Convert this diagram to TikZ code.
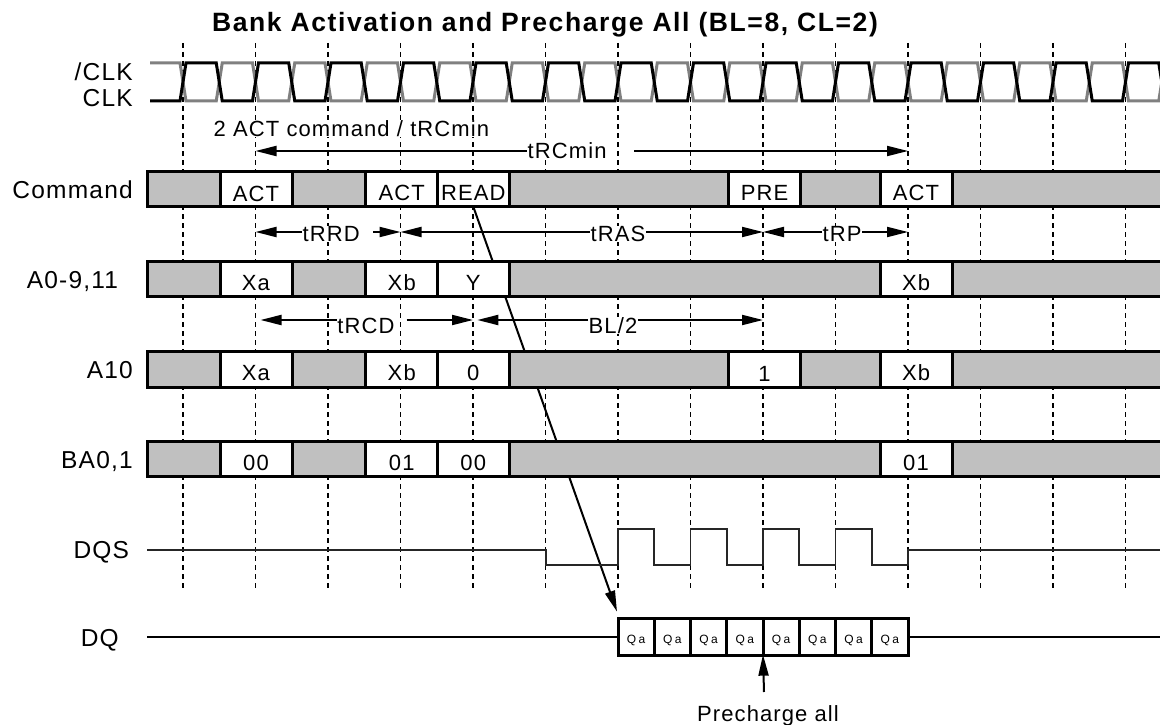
\documentclass[tikz,border=0pt]{standalone}
\usepackage{fontspec}
\setmainfont{Liberation Sans}
\newfontfamily\lblfont{Liberation Sans}[LetterSpace=5]
\newfontfamily\ttlfont{Liberation Sans}[LetterSpace=6]
\newfontfamily\qfont{Liberation Sans}[LetterSpace=20]
\usetikzlibrary{arrows.meta}
\definecolor{busgray}{RGB}{192,192,192}
\definecolor{clkgray}{RGB}{128,128,128}
\pgfdeclarelayer{bg}
\pgfsetlayers{bg,main}
\newcommand\busrow[1]{%
  \fill[busgray] (147,#1) rectangle (1175,#1+35.5);
  \draw[bus] (1175,#1) -- (147,#1) -- (147,#1+35.5) -- (1175,#1+35.5);
}
\begin{document}
\begin{tikzpicture}[x=1pt,y=-1pt,
  grid/.style={line width=1.6pt, dash pattern=on 5pt off 4pt},
  bus/.style={line width=3pt},
  cell/.style={draw, line width=3pt, fill=white, inner sep=0pt, outer sep=0pt,
    minimum width=72pt, minimum height=35.5pt, text height=22.5pt, text depth=0pt,
    font=\lblfont\fontsize{22}{26}\selectfont},
  qcell/.style={draw, line width=3pt, fill=white, inner sep=0pt, outer sep=0pt,
    minimum width=36.25pt, minimum height=36.7pt, text height=13.3pt, text depth=0pt,
    font=\qfont\fontsize{12}{14}\selectfont},
  sig/.style={font=\lblfont\fontsize{24.5}{29}\selectfont, anchor=base east, inner sep=0pt},
  lab/.style={font=\lblfont\fontsize{22}{26}\selectfont, inner sep=0.5pt, fill=white},
  tm/.style={line width=2pt},
  tip/.style={-{Triangle[length=21pt,width=10pt]}},
  clkb/.style={line width=3pt, black},
  clkg/.style={line width=3pt, clkgray},
  dqs/.style={line width=1.8pt, black!85},
]
\useasboundingbox (0,0) rectangle (1160,725);

% title
\node[font=\ttlfont\bfseries\fontsize{26.5}{31}\selectfont, anchor=base, inner sep=0pt] (title) at (545,32) {Bank Activation and Precharge All (BL=8, CL=2)};

% signal labels
\node[sig] (lnclk) at (133,81) {/CLK};
\node[sig] (lclk) at (133,106.7) {CLK};
\node[sig] (lcmd) at (133,198.3) {Command};
\node[sig] (la0) at (118.3,288) {A0-9,11};
\node[sig] (la10) at (133,378.5) {A10};
\node[sig] (lba) at (133,468) {BA0,1};
\node[sig] (ldqs) at (129.3,558.5) {DQS};
\node[sig] (ldq) at (119,646) {DQ};

% clocks
\draw[clkg] (150,63) foreach \k in {0,...,13} { -- ({180+72.5*\k},63) -- ({186+72.5*\k},101) -- ({216.25+72.5*\k},101) -- ({222.25+72.5*\k},63) } -- (1175,63);
\draw[clkb] (150,101) foreach \k in {0,...,13} { -- ({180+72.5*\k},101) -- ({186+72.5*\k},63) -- ({216.25+72.5*\k},63) -- ({222.25+72.5*\k},101) } -- (1175,101);

% bus rows
\busrow{171}
\busrow{261}
\busrow{351.5}
\busrow{441}

% Command
\node[cell, text height=24.5pt] (c1) at (256,188.75) {ACT};
\node[cell] (c2) at (401.75,188.75) {ACT};
\node[cell] (c3) at (473.25,188.75) {READ};
\node[cell] (c4) at (764.5,188.75) {PRE};
\node[cell] (c5) at (916,188.75) {ACT};
% A0-9,11
\node[cell] (a1) at (256,278.75) {Xa};
\node[cell] (a2) at (401.75,278.75) {Xb};
\node[cell] (a3) at (473.25,278.75) {Y};
\node[cell] (a5) at (916,278.75) {Xb};
% A10
\node[cell] (b1) at (256,369.25) {Xa};
\node[cell] (b2) at (401.75,369.25) {Xb};
\node[cell] (b3) at (473.25,369.25) {0};
\node[cell, text height=25pt] (b4) at (764.5,369.25) {1};
\node[cell] (b5) at (916,369.25) {Xb};
% BA0,1
\node[cell] (d1) at (256,458.75) {00};
\node[cell] (d2) at (401.75,458.75) {01};
\node[cell] (d3) at (473.25,458.75) {00};
\node[cell] (d5) at (916,458.75) {01};

% background layer: white, grid, READ arrow
\begin{pgfonlayer}{bg}
  \fill[white] (0,0) rectangle (1160,725);
  \foreach \k in {0,...,13} \draw[grid] ({183+72.5*\k},43) -- ({183+72.5*\k},591);
  \coordinate (rdtip) at (617,611.7);
  \draw[tm,tip] (c3.south) -- (rdtip);
\end{pgfonlayer}

% DQS
\draw[dqs] (147,550) -- (546,550) -- (546,565) -- (618,565)
  -- (618,529.3) -- (654.25,529.3) -- (654.25,565) -- (690.5,565)
  -- (690.5,529.3) -- (726.75,529.3) -- (726.75,565) -- (763,565)
  -- (763,529.3) -- (799.25,529.3) -- (799.25,565) -- (835.5,565)
  -- (835.5,529.3) -- (871.75,529.3) -- (871.75,565) -- (908,565)
  -- (908,550) -- (1175,550);

% DQ
\foreach \i in {1,...,8} \node[qcell] (dq\i) at ({618+36.25*(\i-0.5)},637.3) {Qa};
\coordinate (dqL) at (147,637.3);
\coordinate (dqR) at (1175,637.3);
\draw[tm] (dqL) -- (dq1.west);
\draw[tm] (dq8.east) -- (dqR);

% timing labels
\node[lab, anchor=base west] (act2) at (213,136.7) {2 ACT command / tRCmin};
\node[lab, anchor=base west] (lRC) at (527,158) {tRCmin};
\node[lab, anchor=base west] (lRRD) at (302,241.7) {tRRD};
\node[lab, anchor=base west] (lRAS) at (590,241.7) {tRAS};
\node[lab, anchor=base west] (lRP) at (822,241.7) {tRP};
\node[lab, anchor=base west] (lRCD) at (336.7,333.3) {tRCD};
\node[lab, anchor=base west] (lBL) at (588,333.3) {BL/2};

\coordinate (rcA) at (255.5,151);
\coordinate (rcB) at (634,151);
\coordinate (rcC) at (908,151);
\draw[tm,tip] (lRC.west |- rcA) -- (rcA);
\draw[tm,tip] (rcB) -- (rcC);

\coordinate (rrA) at (255.5,232);
\coordinate (rrB) at (373,232);
\coordinate (rrC) at (400.5,232);
\coordinate (rrD) at (763,232);
\coordinate (rrE) at (908,232);
\draw[tm,tip] (lRRD.west |- rrA) -- (rrA);
\draw[tm,tip] (rrB) -- (rrC);
\draw[tm,tip] (lRAS.west |- rrA) -- (rrC);
\draw[tm,tip] (lRAS.east |- rrA) -- (rrD);
\draw[tm,tip] (lRP.west |- rrA) -- (rrD);
\draw[tm,tip] (lRP.east |- rrA) -- (rrE);

\coordinate (cdA) at (260.5,320);
\coordinate (cdB) at (406.7,320);
\coordinate (cdC) at (473,320);
\coordinate (cdD) at (477.3,320);
\coordinate (cdE) at (763,320);
\draw[tm,tip] (lRCD.west |- cdA) -- (cdA);
\draw[tm,tip] (cdB) -- (cdC);
\draw[tm,tip] (lBL.west |- cdA) -- (cdD);
\draw[tm,tip] (lBL.east |- cdA) -- (cdE);

% precharge all
\node[lab, anchor=base] (pc) at (768,721) {Precharge all};
\coordinate (pcs) at (764,692);
\draw[tm,tip,shorten >=-1pt] (pcs) -- (dq5.south west);
\end{tikzpicture}
\end{document}
